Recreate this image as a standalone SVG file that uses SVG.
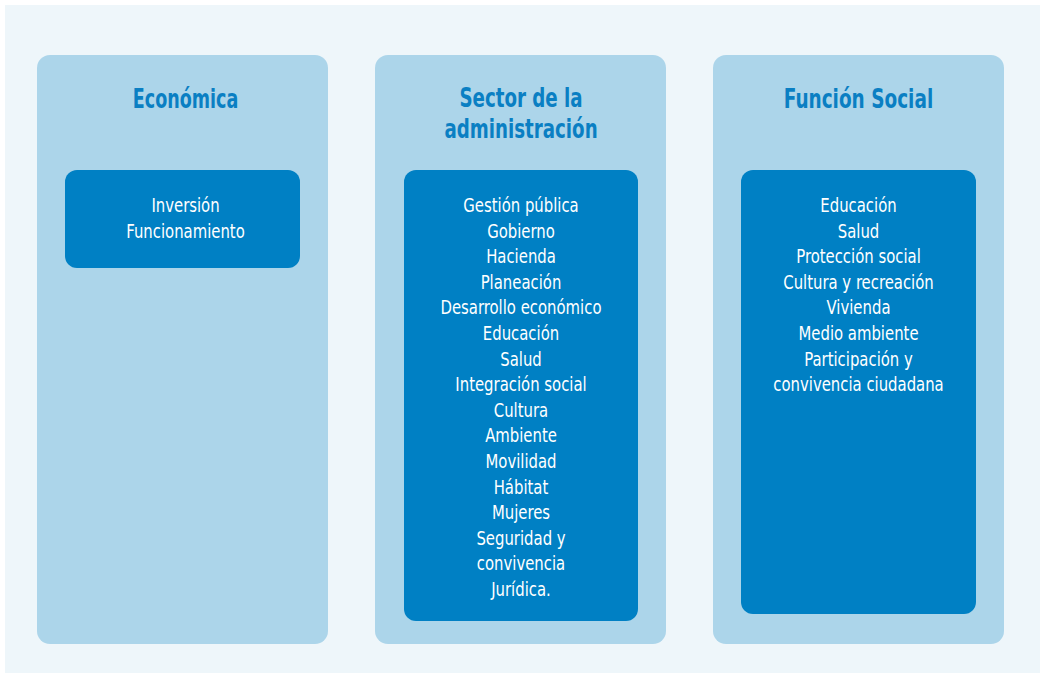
<svg xmlns="http://www.w3.org/2000/svg" width="1040" height="673" viewBox="0 0 1040 673">
<style>
.col{fill:#acd5ea}
.box{fill:#0080c4}
.title{font-family:"DejaVu Sans Condensed","DejaVu Sans","Liberation Sans",sans-serif;font-stretch:condensed;font-weight:bold;font-size:26px;fill:#0a7fc3;text-anchor:middle}
.item{font-family:"DejaVu Sans Condensed","DejaVu Sans","Liberation Sans",sans-serif;font-stretch:condensed;font-size:19px;fill:#ffffff;text-anchor:middle}
</style>
<rect x="0" y="0" width="1040" height="673" fill="#ffffff"/>
<rect x="5" y="5" width="1035" height="668" fill="#eef6fa"/>
<g id="economica">
<rect class="col" x="37" y="55" width="291" height="589" rx="13"/>
<text class="title" transform="matrix(0.75 0 0 1 185.5 0)" x="0" y="108">Económica</text>
<rect class="box" x="65" y="170" width="235" height="98" rx="12"/>
<g transform="matrix(0.87 0 0 1 185.5 0)">
<text class="item" x="0" y="212">Inversión</text>
<text class="item" x="0" y="237.6">Funcionamiento</text>
</g>
</g>
<g id="sector">
<rect class="col" x="375" y="55" width="291" height="589" rx="13"/>
<text class="title" transform="matrix(0.78 0 0 1 521 0)" x="0" y="107.5">Sector de la</text>
<text class="title" transform="matrix(0.78 0 0 1 521 0)" x="0" y="138">administración</text>
<rect class="box" x="404" y="170" width="234" height="451" rx="12"/>
<g transform="matrix(0.87 0 0 1 521 0)">
<text class="item" x="0" y="212">Gestión pública</text>
<text class="item" x="0" y="237.6">Gobierno</text>
<text class="item" x="0" y="263.2">Hacienda</text>
<text class="item" x="0" y="288.8">Planeación</text>
<text class="item" x="0" y="314.4">Desarrollo económico</text>
<text class="item" x="0" y="340">Educación</text>
<text class="item" x="0" y="365.6">Salud</text>
<text class="item" x="0" y="391.2">Integración social</text>
<text class="item" x="0" y="416.8">Cultura</text>
<text class="item" x="0" y="442.4">Ambiente</text>
<text class="item" x="0" y="468">Movilidad</text>
<text class="item" x="0" y="493.6">Hábitat</text>
<text class="item" x="0" y="519.2">Mujeres</text>
<text class="item" x="0" y="544.8">Seguridad y</text>
<text class="item" x="0" y="570.4">convivencia</text>
<text class="item" x="0" y="596">Jurídica.</text>
</g>
</g>
<g id="funcion">
<rect class="col" x="713" y="55" width="291" height="589" rx="13"/>
<text class="title" transform="matrix(0.79 0 0 1 858.5 0)" x="0" y="108">Función Social</text>
<rect class="box" x="741" y="170" width="235" height="444" rx="12"/>
<g transform="matrix(0.87 0 0 1 858.5 0)">
<text class="item" x="0" y="212">Educación</text>
<text class="item" x="0" y="237.6">Salud</text>
<text class="item" x="0" y="263.2">Protección social</text>
<text class="item" x="0" y="288.8">Cultura y recreación</text>
<text class="item" x="0" y="314.4">Vivienda</text>
<text class="item" x="0" y="340">Medio ambiente</text>
<text class="item" x="0" y="365.6">Participación y</text>
<text class="item" x="0" y="391.2">convivencia ciudadana</text>
</g>
</g>
<g id="connectors"></g>
</svg>
